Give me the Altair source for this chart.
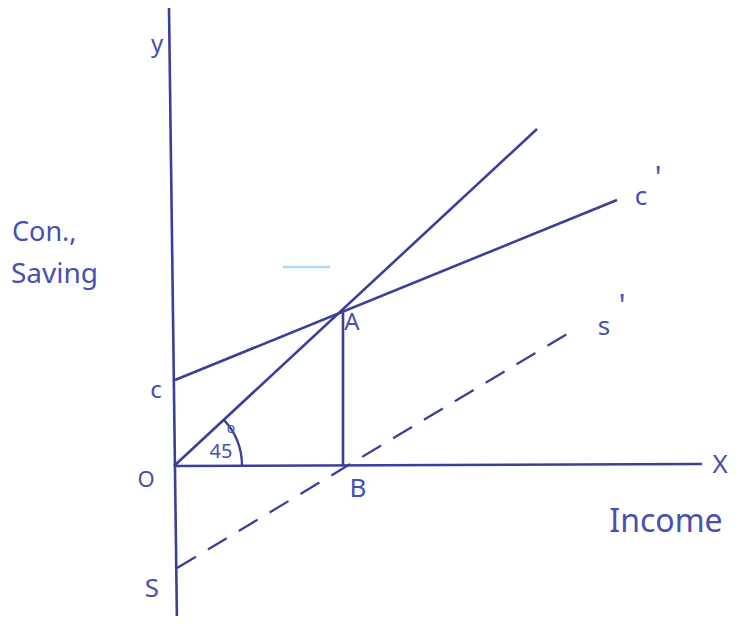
import altair as alt
import pandas as pd

# Line segments (data units; origin O = (0, 0))
seg_names = ["yaxis", "xaxis", "line45", "cline", "ab", "sline", "stray"]
seg_x1 = [-0.5, 0.0, 0.0, 0.1, 16.9, 0.3, 10.9]
seg_y1 = [45.8, 0.0, 0.0, 8.6, 15.7, -10.2, 19.9]
seg_x2 = [0.3, 52.8, 36.3, 44.3, 16.9, 40.3, 15.6]
seg_y2 = [-15.8, 0.2, 33.7, 26.6, 0.0, 13.8, 19.9]
seg_dash = ["solid", "solid", "solid", "solid", "solid", "dash", "stray"]

# Labels
lab_text = ["y", "Con.,", "Saving", "c", "O", "S", "B", "A",
            "c", "'", "s", "'", "X", "Income", "45", "o"]
lab_x = [-1.7, -16.2, -16.3, -1.8, -2.8, -2.2, 18.4, 17.8,
         46.7, 48.4, 43.0, 44.8, 54.6, 49.2, 4.7, 5.7]
lab_y = [42.1, 23.3, 19.1, 7.5, -1.4, -12.3, -2.3, 14.3,
         26.9, 28.7, 13.9, 15.9, 0.1, -5.6, 1.4, 3.7]
lab_size = [24, 27, 28, 24, 22, 26, 26, 24,
            26, 30, 26, 30, 26, 32, 20, 14]
lab_align = ["center", "left", "left", "center", "center", "center", "center", "center",
             "center", "center", "center", "center", "center", "center", "center", "center"]

INK = "#3b3f9c"
TEXT_INK = "#4650b0"

segs = pd.DataFrame({"name": seg_names, "x": seg_x1, "y": seg_y1,
                     "x2": seg_x2, "y2": seg_y2, "style": seg_dash})
labs = pd.DataFrame({"text": lab_text, "x": lab_x, "y": lab_y,
                     "size": lab_size, "align": lab_align})
origin = pd.DataFrame({"x": [0.0], "y": [0.0]})

xs = alt.Scale(domain=[-16.6, 55.7], nice=False, zero=False)
ys = alt.Scale(domain=[-15.0, 45.8], nice=False, zero=False)

rules_solid = alt.Chart(segs).transform_filter(alt.datum.style == "solid").mark_rule(
    color=INK, strokeWidth=2.6, clip=True
).encode(
    x=alt.X("x:Q", scale=xs, axis=None),
    y=alt.Y("y:Q", scale=ys, axis=None),
    x2="x2:Q",
    y2="y2:Q",
)

rules_dash = alt.Chart(segs).transform_filter(alt.datum.style == "dash").mark_rule(
    color=INK, strokeWidth=2.3, strokeDash=[22, 14], clip=True
).encode(
    x=alt.X("x:Q", scale=xs, axis=None),
    y=alt.Y("y:Q", scale=ys, axis=None),
    x2="x2:Q",
    y2="y2:Q",
)

rules_stray = alt.Chart(segs).transform_filter(alt.datum.style == "stray").mark_rule(
    color="#a9d9ef", strokeWidth=2.5
).encode(
    x=alt.X("x:Q", scale=xs, axis=None),
    y=alt.Y("y:Q", scale=ys, axis=None),
    x2="x2:Q",
    y2="y2:Q",
)

arc = alt.Chart(origin).mark_arc(
    radius=68, innerRadius=68, theta=0.82, theta2=1.5708,
    fill=None, stroke=INK, strokeWidth=2.3
).encode(
    x=alt.X("x:Q", scale=xs, axis=None),
    y=alt.Y("y:Q", scale=ys, axis=None),
)

texts_left = alt.Chart(labs).transform_filter(alt.datum.align == "left").mark_text(
    font="Noto Sans", color=TEXT_INK, baseline="middle", align="left"
).encode(
    x=alt.X("x:Q", scale=xs, axis=None),
    y=alt.Y("y:Q", scale=ys, axis=None),
    text="text:N",
    size=alt.Size("size:Q", scale=None, legend=None),
)

texts_center = alt.Chart(labs).transform_filter(alt.datum.align == "center").mark_text(
    font="Noto Sans", color=TEXT_INK, baseline="middle", align="center"
).encode(
    x=alt.X("x:Q", scale=xs, axis=None),
    y=alt.Y("y:Q", scale=ys, axis=None),
    text="text:N",
    size=alt.Size("size:Q", scale=None, legend=None),
)

chart = alt.layer(
    rules_stray, rules_solid, rules_dash, arc, texts_left, texts_center
).properties(
    width=723, height=608,
    autosize=alt.AutoSizeParams(type="fit", contains="padding"),
    padding=0,
    background="white",
).configure_view(stroke=None)

chart.save("out.html", embed_options={"renderer": "svg", "actions": False})
